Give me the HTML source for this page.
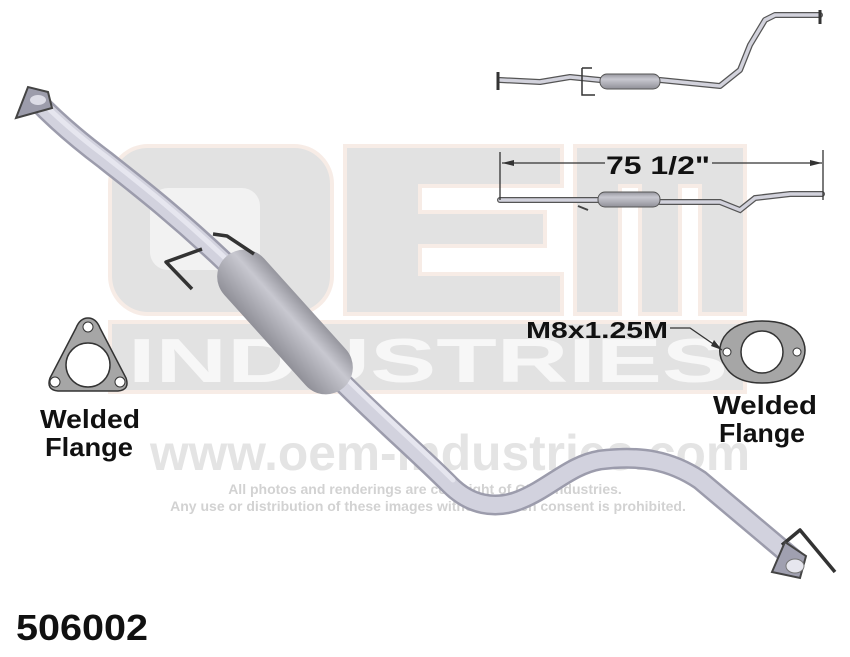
<!DOCTYPE html>
<html><head><meta charset="utf-8"><style>
html,body{margin:0;padding:0;background:#fff;}
svg{display:block;}
</style></head><body>
<svg width="850" height="657" viewBox="0 0 850 657" xmlns="http://www.w3.org/2000/svg" font-family="Liberation Sans, sans-serif">
<defs>
<linearGradient id="mg" x1="0" y1="0" x2="0" y2="1">
<stop offset="0" stop-color="#96969e"/><stop offset="0.35" stop-color="#c8c8d0"/><stop offset="1" stop-color="#909098"/>
</linearGradient>
</defs>
<rect width="850" height="657" fill="#fff"/>
<!-- watermark OEM -->
<g fill="#e2e2e2" stroke="#f7ece6" stroke-width="4">
  <rect x="110" y="146" width="222" height="168" rx="38"/>
  <path d="M345 146 H562 V186 H420 V212 H545 V246 H420 V274 H562 V314 H345 Z"/>
  <path d="M575 146 H745 V314 H700 V186 H680 V314 H640 V186 H620 V314 H575 Z"/>
</g>
<rect x="150" y="188" width="110" height="82" rx="18" fill="#f2f2f2"/>
<rect x="110" y="322" width="635" height="70" fill="#e2e2e2" stroke="#f7ece6" stroke-width="4"/>
<text x="428" y="382" text-anchor="middle" font-size="62" font-weight="bold" fill="#f7f7f7" textLength="600" lengthAdjust="spacingAndGlyphs">INDUSTRIES</text>
<text x="450" y="470" text-anchor="middle" font-size="50" font-weight="bold" fill="#e4e4e4" textLength="600" lengthAdjust="spacingAndGlyphs">www.oem-industries.com</text>
<text x="425" y="494" text-anchor="middle" font-size="14" font-weight="bold" fill="#d2d2d2">All photos and renderings are copyright of OEM Industries.</text>
<text x="428" y="511" text-anchor="middle" font-size="14" font-weight="bold" fill="#d2d2d2">Any use or distribution of these images without written consent is prohibited.</text>

<!-- main pipe -->
<g fill="none" stroke-linecap="round" stroke-linejoin="round">
  <path d="M36 100 C60 125 85 145 105 160 C130 180 170 210 225 262 M345 385 C380 420 420 455 450 485 C470 505 495 510 520 500 C550 488 570 465 600 460 C640 455 670 460 700 480 L795 560" stroke="#9c9cac" stroke-width="21"/>
  <path d="M36 100 C60 125 85 145 105 160 C130 180 170 210 225 262 M345 385 C380 420 420 455 450 485 C470 505 495 510 520 500 C550 488 570 465 600 460 C640 455 670 460 700 480 L795 560" stroke="#d2d2de" stroke-width="16"/>
  <path d="M36 96 C60 121 85 141 105 156 C130 176 170 206 225 258 M348 380 C383 415 423 450 453 480" stroke="#e6e6ef" stroke-width="5"/>
</g>
<!-- muffler -->
<g transform="translate(285 322) rotate(48)">
  <rect x="-88" y="-27" width="176" height="54" rx="27" fill="url(#mg)"/>
</g>
<!-- hanger brackets -->
<g fill="none" stroke="#333" stroke-width="3.5" stroke-linejoin="round">
  <path d="M213 234 L227 236 L254 254"/>
  <path d="M202 249 L166 262 L192 289"/>
  <path d="M782 545 L800 530 L835 572"/>
</g>
<!-- end flanges -->
<path d="M16 118 L28 87 L48 92 L52 108 Z" fill="#9c9cab" stroke="#444" stroke-width="2"/>
<ellipse cx="38" cy="100" rx="8" ry="5" fill="#dcdce6"/>
<path d="M772 572 L785 542 L806 556 L800 578 Z" fill="#a0a0b0" stroke="#444" stroke-width="2"/>
<ellipse cx="795" cy="566" rx="9" ry="7" fill="#e6e6ee" stroke="#777"/>

<!-- small top view -->
<g fill="none" stroke-linecap="round" stroke-linejoin="round">
  <path d="M500 80 L540 82 L570 77 L600 80 H660 L720 86 L740 70 L750 45 L765 20 L775 15 H820" stroke="#555" stroke-width="6"/>
  <path d="M500 80 L540 82 L570 77 L600 80 H660 L720 86 L740 70 L750 45 L765 20 L775 15 H820" stroke="#d2d2dc" stroke-width="3.5"/>
</g>
<rect x="600" y="74" width="60" height="15" rx="7" fill="url(#mg)" stroke="#555"/>
<path d="M498 72 V90 M820 10 V24" stroke="#333" stroke-width="3"/>
<path d="M582 68 H592 M582 68 V95 H595" stroke="#333" stroke-width="1.5" fill="none"/>
<!-- small side view -->
<g fill="none" stroke-linecap="round">
  <path d="M500 200 H600 M660 202 H720 L740 210 L755 198 L790 194 H822" stroke="#555" stroke-width="6"/>
  <path d="M500 200 H600 M660 202 H720 L740 210 L755 198 L790 194 H822" stroke="#d2d2dc" stroke-width="3.5"/>
</g>
<rect x="598" y="192" width="62" height="15" rx="7" fill="url(#mg)" stroke="#555"/>
<path d="M578 206 L588 210" stroke="#444" stroke-width="2"/>
<!-- dimension -->
<g stroke="#333" stroke-width="1.3" fill="none">
  <path d="M500 152 V200 M823 150 V200 M502 163 H605 M712 163 H822"/>
</g>
<path d="M502 163 L514 160 L514 166 Z M822 163 L810 160 L810 166 Z" fill="#333"/>
<text x="658" y="174" text-anchor="middle" font-size="25" font-weight="bold" fill="#111" textLength="104" lengthAdjust="spacingAndGlyphs">75 1/2"</text>

<!-- left flange -->
<path d="M88 318 Q96 318 100 328 L126 378 Q130 390 118 391 L58 391 Q46 390 50 378 L76 328 Q80 318 88 318 Z" fill="#a6a6a6" stroke="#333" stroke-width="1.5"/>
<circle cx="88" cy="365" r="22" fill="#fff" stroke="#333" stroke-width="1.5"/>
<circle cx="88" cy="327" r="5" fill="#fff" stroke="#333"/>
<circle cx="55" cy="382" r="5" fill="#fff" stroke="#333"/>
<circle cx="120" cy="382" r="5" fill="#fff" stroke="#333"/>
<text x="90" y="428" text-anchor="middle" font-size="26" font-weight="bold" fill="#111" textLength="100" lengthAdjust="spacingAndGlyphs">Welded</text>
<text x="89" y="456" text-anchor="middle" font-size="26" font-weight="bold" fill="#111" textLength="88" lengthAdjust="spacingAndGlyphs">Flange</text>
<!-- right flange -->
<path d="M762 321 Q790 321 800 335 Q810 350 800 366 Q790 383 762 383 Q735 383 725 366 Q715 352 724 337 Q735 321 762 321 Z" fill="#a6a6a6" stroke="#333" stroke-width="1.5"/>
<circle cx="762" cy="352" r="21" fill="#fff" stroke="#333" stroke-width="1.5"/>
<circle cx="727" cy="352" r="4" fill="#fff" stroke="#333"/>
<circle cx="797" cy="352" r="4" fill="#fff" stroke="#333"/>
<path d="M670 328 H690 L722 350" stroke="#333" stroke-width="1.3" fill="none"/>
<path d="M722 350 L714 340 L711 346 Z" fill="#333"/>
<text x="597" y="338" text-anchor="middle" font-size="23" font-weight="bold" fill="#111" textLength="142" lengthAdjust="spacingAndGlyphs">M8x1.25M</text>
<text x="765" y="414" text-anchor="middle" font-size="26" font-weight="bold" fill="#111" textLength="104" lengthAdjust="spacingAndGlyphs">Welded</text>
<text x="762" y="442" text-anchor="middle" font-size="26" font-weight="bold" fill="#111" textLength="86" lengthAdjust="spacingAndGlyphs">Flange</text>

<text x="16" y="640" font-size="36" font-weight="bold" fill="#111" textLength="132" lengthAdjust="spacingAndGlyphs">506002</text>
</svg>
</body></html>
